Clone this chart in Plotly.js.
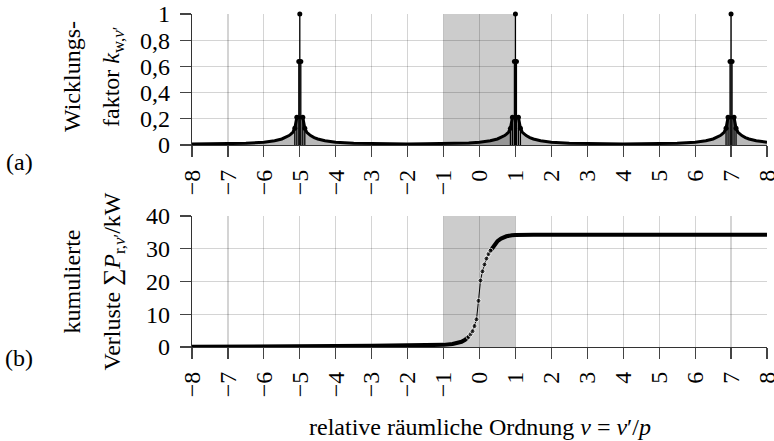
<!DOCTYPE html>
<html><head><meta charset="utf-8">
<script src="https://cdn.plot.ly/plotly-3.0.1.min.js"></script>
<style>html,body{margin:0;padding:0;background:#fff}#c{width:774px;height:441px}
svg text{font-family:'Liberation Serif' !important;}</style>
</head><body><div id="c"></div>
<script>
// ---- data ----
// (a) winding factor: envelope of the dense stems
const nuEnv = [-8,-7.5,-7,-6.5,-6,-5.7,-5.5,-5.4,-5.3,-5.25,-5.194,-5.139,-5.083,-4.917,-4.861,-4.806,-4.75,-4.7,-4.6,-4.5,-4.3,-4,-3.5,-3,-2.5,-2,-1.5,-1,-0.5,-0.3,0,0.3,0.5,0.6,0.7,0.75,0.806,0.861,0.917,1.083,1.139,1.194,1.25,1.3,1.4,1.5,1.7,2,2.5,3,3.5,4,4.5,5,5.5,6,6.3,6.5,6.6,6.7,6.75,6.806,6.861,6.917,7.083,7.139,7.194,7.25,7.3,7.4,7.5,7.7,8];
const kwEnv = [0.007,0.008,0.010,0.013,0.021,0.032,0.046,0.057,0.072,0.083,0.097,0.127,0.212,0.212,0.127,0.097,0.083,0.072,0.057,0.046,0.032,0.021,0.014,0.011,0.009,0.008,0.009,0.011,0.014,0.016,0.021,0.032,0.046,0.057,0.072,0.083,0.097,0.127,0.212,0.212,0.127,0.097,0.083,0.072,0.057,0.046,0.032,0.021,0.014,0.011,0.009,0.008,0.009,0.011,0.014,0.021,0.032,0.046,0.057,0.072,0.083,0.097,0.127,0.212,0.212,0.127,0.097,0.083,0.072,0.057,0.046,0.032,0.021];
// (a) individual stems near the peaks
const nuStem = [-5.139,-5.083,-5.028,-5,-4.972,-4.917,-4.861, 0.861,0.917,0.972,1,1.028,1.083,1.139, 6.861,6.917,6.972,7,7.028,7.083,7.139];
const kwStem = [0.127,0.212,0.637,1,0.637,0.212,0.127, 0.127,0.212,0.637,1,0.637,0.212,0.127, 0.127,0.212,0.637,1,0.637,0.212,0.127];
// (b) cumulative losses in kW
const nuLoss = [-8,-6,-5.03,-4.97,-4,-3,-2,-1.5,-1,-0.75,-0.6,-0.5,-0.4,-0.306,-0.25,-0.194,-0.139,-0.083,-0.028,0.028,0.083,0.139,0.194,0.25,0.306,0.4,0.5,0.6,0.75,0.9,1.0,1.5,3,5,8];
const pLoss  = [0.05,0.05,0.05,0.3,0.33,0.36,0.4,0.5,0.65,0.9,1.2,1.6,2.2,3.1,3.9,4.8,6.4,8.45,14.1,20.3,23.1,25.2,27.0,28.4,29.4,31.0,32.3,33.1,33.8,34.1,34.2,34.3,34.3,34.3,34.3];
// axes
const xTicks = [-8,-7,-6,-5,-4,-3,-2,-1,0,1,2,3,4,5,6,7,8];
const yTicksA = [0,0.2,0.4,0.6,0.8,1];
const yTicksB = [0,10,20,30,40];
const shadeRange = [-1,1];

const FONT = 'Liberation Serif';
const FS = 24;
const W = 774, H = 441;
const px = v => v / W, py = v => 1 - v / H;

// stems as segments built from the arrays
const sx = [], sy = [];
nuStem.forEach((n, i) => { sx.push(n, n, null); sy.push(0, kwStem[i], null); });

const thickY = pLoss.map((v, i) => Math.abs(nuLoss[i]) < 0.3 ? null : v);
const dotSize = nuLoss.map(n => Math.abs(n) < 0.35 ? 5 : 0);

const traces = [
  {x: nuEnv, y: kwEnv, xaxis: 'x', yaxis: 'y', mode: 'lines', line: {color: '#000', width: 3},
   fill: 'tozeroy', fillcolor: 'rgba(0,0,0,0)', fillpattern: {shape: '|', size: 2, solidity: 0.35, fgcolor: '#333'},
   cliponaxis: false, hoverinfo: 'skip'},
  {x: sx, y: sy, xaxis: 'x', yaxis: 'y', mode: 'lines', line: {color: '#000', width: 1.3}, cliponaxis: false},
  {x: nuStem, y: kwStem, xaxis: 'x', yaxis: 'y', mode: 'markers', marker: {color: '#000', size: 5}, cliponaxis: false},
  {x: nuLoss, y: thickY, xaxis: 'x2', yaxis: 'y2', mode: 'lines', line: {color: '#000', width: 4}, connectgaps: false, cliponaxis: false},
  {x: nuLoss, y: pLoss, xaxis: 'x2', yaxis: 'y2', mode: 'lines+markers', line: {color: '#000', width: 1}, marker: {color: '#000', size: dotSize}, cliponaxis: false}
];

const xBase = {
  range: [-8, 8.0005], tickvals: xTicks, ticktext: xTicks.map(v => v < 0 ? '\u2212' + Math.abs(v) : String(v)),
  tickangle: -90, ticks: 'outside', ticklen: 11, tickcolor: '#444', tickwidth: 1.2,
  showgrid: true, gridcolor: 'rgba(0,0,0,0.17)', gridwidth: 1.2, zeroline: false,
  showline: true, linecolor: '#333', linewidth: 1.2, ticklabelstandoff: 3, ticklabeloverflow: 'allow',
  tickfont: {family: FONT, size: FS, color: '#000'}, domain: [px(192), px(767)], fixedrange: true
};
const yBase = {
  ticks: 'outside', ticklen: 11, tickcolor: '#444', tickwidth: 1.2,
  showgrid: true, gridcolor: 'rgba(0,0,0,0.17)', gridwidth: 1.2, zeroline: false,
  showline: true, linecolor: '#333', linewidth: 1.3, ticklabelstandoff: 5,
  tickfont: {family: FONT, size: FS, color: '#000'}, fixedrange: true
};

const layout = {
  width: W, height: H, margin: {l: 0, r: 0, t: 0, b: 0},
  paper_bgcolor: '#fff', plot_bgcolor: 'rgba(0,0,0,0)', showlegend: false,
  separators: ', ',
  font: {family: FONT, size: FS, color: '#000'},
  xaxis: Object.assign({}, xBase, {anchor: 'y'}),
  xaxis2: Object.assign({}, xBase, {anchor: 'y2'}),
  yaxis: Object.assign({}, yBase, {range: [0, 1], tickvals: yTicksA, ticktext: ['0','0,2','0,4','0,6','0,8','1'], anchor: 'x', domain: [py(145), py(14)]}),
  yaxis2: Object.assign({}, yBase, {range: [0, 40], tickvals: yTicksB, anchor: 'x2', domain: [py(347), py(216)]}),
  shapes: [
    {type: 'rect', xref: 'x', yref: 'y domain', x0: shadeRange[0], x1: shadeRange[1], y0: 0, y1: 1, fillcolor: '#cccccc', line: {width: 0}, layer: 'below'},
    {type: 'rect', xref: 'x2', yref: 'y2 domain', x0: shadeRange[0], x1: shadeRange[1], y0: 0, y1: 1, fillcolor: '#cccccc', line: {width: 0}, layer: 'below'}
  ],
  annotations: [
    {text: 'Wicklungs-', x: px(72), y: py(77), xref: 'paper', yref: 'paper', textangle: -90, showarrow: false, xanchor: 'center', yanchor: 'middle'},
    {text: 'faktor <i>k</i><sub>w,<i>ν</i>′</sub>', x: px(113), y: py(77), xref: 'paper', yref: 'paper', textangle: -90, showarrow: false, xanchor: 'center', yanchor: 'middle'},
    {text: 'kumulierte', x: px(71), y: py(281.5), xref: 'paper', yref: 'paper', textangle: -90, showarrow: false, xanchor: 'center', yanchor: 'middle'},
    {text: 'Verluste ∑<i>P</i><sub>r,<i>ν</i>′</sub>/kW', x: px(113), y: py(281.5), xref: 'paper', yref: 'paper', textangle: -90, showarrow: false, xanchor: 'center', yanchor: 'middle'},
    {text: '(a)', x: px(19), y: py(162), xref: 'paper', yref: 'paper', showarrow: false, xanchor: 'center', yanchor: 'middle'},
    {text: '(b)', x: px(19), y: py(358), xref: 'paper', yref: 'paper', showarrow: false, xanchor: 'center', yanchor: 'middle'},
    {text: 'relative räumliche Ordnung <i>ν</i> = <i>ν</i>′/<i>p</i>', x: px(479.5), y: py(427), xref: 'paper', yref: 'paper', showarrow: false, xanchor: 'center', yanchor: 'middle'}
  ]
};

Plotly.newPlot('c', traces, layout, {staticPlot: true, displayModeBar: false});
</script></body></html>
